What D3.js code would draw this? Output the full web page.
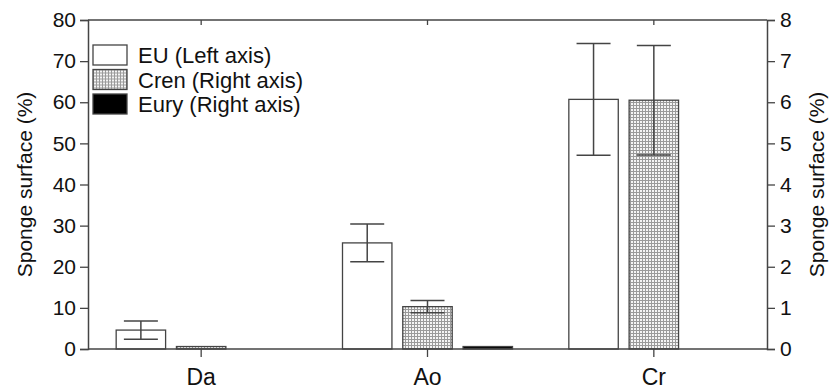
<!DOCTYPE html>
<html>
<head>
<meta charset="utf-8">
<script src="https://cdn.jsdelivr.net/npm/d3@7"></script>
<style>
body { margin: 0; background: #fff; }
text { font-family: "Liberation Sans", Arial, sans-serif; fill: #111; }
</style>
</head>
<body>
<div id="chart"></div>
<script>
// data
let sites = ["Da", "Ao", "Cr"];
let seriesNames = ["EU (Left axis)", "Cren (Right axis)", "Eury (Right axis)"];
let euMean = [4.6, 25.8, 60.7];
let euErr = [2.2, 4.6, 13.6];
let crenMean = [0.06, 1.03, 6.05];
let crenErr = [0, 0.15, 1.33];
let euryMean = [0, 0.06, 0];
let euryErr = [0, 0, 0];
let leftTicks = [0, 10, 20, 30, 40, 50, 60, 70, 80];
let rightTicks = [0, 1, 2, 3, 4, 5, 6, 7, 8];

function init() {
    let width = 830;
    let height = 392;
    let margin = {top: 20, right: 63, bottom: 43, left: 88};
    let axisColor = "#444";

    let svg = d3.select("#chart")
        .append("svg")
        .attr("width", width)
        .attr("height", height);

    let defs = svg.append("defs");
    let pat = defs.append("pattern")
        .attr("id", "grid")
        .attr("patternUnits", "userSpaceOnUse")
        .attr("width", 3)
        .attr("height", 3);
    pat.append("rect").attr("width", 3).attr("height", 3).attr("fill", "#f4f4f4");
    pat.append("path").attr("d", "M0,0.5H3M0.5,0V3")
        .attr("stroke", "#9a9a9a").attr("stroke-width", 1);

    let x = d3.scaleBand()
        .domain(sites)
        .range([margin.left, width - margin.right]);
    let xSub = d3.scaleBand()
        .domain([0, 1, 2])
        .range([-85, 85])
        .paddingInner(0.18);
    let yLeft = d3.scaleLinear().domain([0, 80]).range([height - margin.bottom, margin.top]);
    let yRight = d3.scaleLinear().domain([0, 8]).range([height - margin.bottom, margin.top]);

    let series = [
        {mean: euMean, err: euErr, y: yLeft, fill: "#fff"},
        {mean: crenMean, err: crenErr, y: yRight, fill: "url(#grid)"},
        {mean: euryMean, err: euryErr, y: yRight, fill: "#000"}
    ];

    // bars and error bars
    series.forEach(function (s, si) {
        let g = svg.append("g");
        sites.forEach(function (site, i) {
            if (s.mean[i] <= 0) return;
            let cx = x(site) + x.bandwidth() / 2;
            let bx = cx + xSub(si);
            let bw = xSub.bandwidth();
            g.append("rect")
                .attr("x", bx)
                .attr("y", s.y(s.mean[i]))
                .attr("width", bw)
                .attr("height", s.y(0) - s.y(s.mean[i]))
                .attr("fill", s.fill)
                .attr("stroke", axisColor)
                .attr("stroke-width", 1.3);
            if (s.err[i] > 0) {
                let mid = bx + bw / 2;
                let top = s.y(s.mean[i] + s.err[i]);
                let bot = s.y(s.mean[i] - s.err[i]);
                g.append("line").attr("x1", mid).attr("x2", mid)
                    .attr("y1", top).attr("y2", bot)
                    .attr("stroke", axisColor).attr("stroke-width", 1.5);
                [top, bot].forEach(function (yy) {
                    g.append("line").attr("x1", mid - 17).attr("x2", mid + 17)
                        .attr("y1", yy).attr("y2", yy)
                        .attr("stroke", axisColor).attr("stroke-width", 1.5);
                });
            }
        });
    });

    // axes
    let leftAxis = svg.append("g")
        .attr("transform", "translate(" + margin.left + ",0)")
        .call(d3.axisLeft(yLeft).tickValues(leftTicks).tickSize(8).tickPadding(4));
    let rightAxis = svg.append("g")
        .attr("transform", "translate(" + (width - margin.right) + ",0)")
        .call(d3.axisRight(yRight).tickValues(rightTicks).tickSize(8).tickPadding(5));
    let bottomAxis = svg.append("g")
        .attr("transform", "translate(0," + (height - margin.bottom) + ")")
        .call(d3.axisBottom(x).tickSize(8).tickPadding(12));
    let topAxis = svg.append("g")
        .attr("transform", "translate(0," + margin.top + ")")
        .call(d3.axisBottom(x).tickSize(5).tickFormat(""));

    [leftAxis, rightAxis, bottomAxis, topAxis].forEach(function (a) {
        a.selectAll("path").attr("stroke", axisColor).attr("stroke-width", 1.5);
        a.selectAll("line").attr("stroke", axisColor).attr("stroke-width", 1.3);
        a.selectAll("text").style("font-size", "21px").attr("fill", "#111");
    });
    topAxis.select("path.domain").attr("d", "M" + margin.left + ",0H" + (width - margin.right));
    bottomAxis.select("path.domain").attr("d", "M" + margin.left + ",0H" + (width - margin.right));
    bottomAxis.selectAll("text").style("font-size", "23px");

    // axis titles
    let midY = (margin.top + height - margin.bottom) / 2;
    svg.append("text")
        .attr("transform", "translate(32," + midY + ") rotate(-90)")
        .attr("text-anchor", "middle")
        .style("font-size", "21px")
        .text("Sponge surface (%)");
    svg.append("text")
        .attr("transform", "translate(824," + midY + ") rotate(-90)")
        .attr("text-anchor", "middle")
        .style("font-size", "21px")
        .text("Sponge surface (%)");

    // legend
    let legend = svg.append("g").attr("transform", "translate(93,45)");
    seriesNames.forEach(function (name, i) {
        let row = legend.append("g").attr("transform", "translate(0," + (i * 24.5) + ")");
        row.append("rect")
            .attr("width", 34).attr("height", 20)
            .attr("fill", series[i].fill)
            .attr("stroke", axisColor).attr("stroke-width", 1.3);
        row.append("text")
            .attr("x", 45).attr("y", 18)
            .style("font-size", "22px")
            .text(name);
    });
}

window.addEventListener('load', init);
</script>
</body>
</html>
